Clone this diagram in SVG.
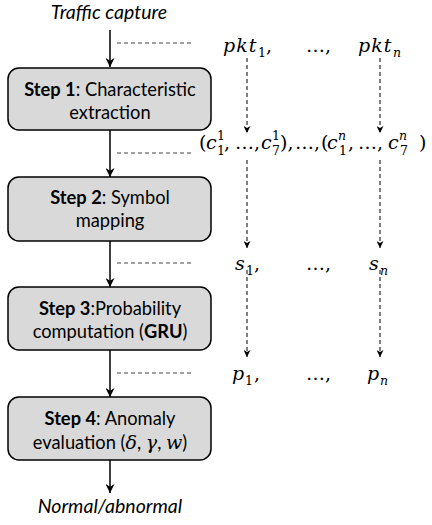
<svg xmlns="http://www.w3.org/2000/svg" width="432" height="525" viewBox="0 0 432 525">
<defs>
<marker id="ah" viewBox="0 0 10 10" refX="10" refY="5" markerWidth="9" markerHeight="9" markerUnits="userSpaceOnUse" orient="auto">
<path d="M0,0 L10,5 L0,10 L3,5 Z" fill="#000"/>
</marker>
<marker id="ahs" viewBox="0 0 10 10" refX="10" refY="5" markerWidth="7" markerHeight="7" markerUnits="userSpaceOnUse" orient="auto">
<path d="M0,0 L10,5 L0,10 L3,5 Z" fill="#000"/>
</marker>
<style>
.box{fill:#d9d9d9;stroke:#000;stroke-width:1.5}
.lbl{font-family:Lato,"Liberation Sans",sans-serif;font-size:18.3px;fill:#000;text-anchor:middle}
.it{font-family:Lato,"Liberation Sans",sans-serif;font-size:19.5px;font-style:italic;fill:#000;text-anchor:middle}
.m{font-family:"DejaVu Serif",serif;font-size:19px;font-style:italic;fill:#000}
.mu{font-family:"DejaVu Serif",serif;font-size:19px;fill:#000}
.s{font-family:"DejaVu Serif",serif;font-size:12.5px;fill:#000}
.si{font-family:"DejaVu Serif",serif;font-size:12.5px;font-style:italic;fill:#000}
.main{stroke:#000;stroke-width:1.5;fill:none;marker-end:url(#ah)}
.hd{stroke:#444;stroke-width:1;stroke-dasharray:4 3;fill:none}
.vd{stroke:#000;stroke-width:1;stroke-dasharray:4 3;fill:none;marker-end:url(#ahs)}
</style>
</defs>

<g id="connectors">
<line class="main" x1="110" y1="30" x2="110" y2="67"/>
<line class="main" x1="110" y1="130" x2="110" y2="177"/>
<line class="main" x1="110" y1="241" x2="110" y2="287"/>
<line class="main" x1="110" y1="350" x2="110" y2="397"/>
<line class="main" x1="110" y1="460" x2="110" y2="493"/>
<line class="hd" x1="117" y1="43" x2="194" y2="43"/>
<line class="hd" x1="117" y1="153" x2="194" y2="153"/>
<line class="hd" x1="117" y1="263" x2="194" y2="263"/>
<line class="hd" x1="117" y1="373" x2="194" y2="373"/>
<line class="vd" x1="247" y1="58" x2="247" y2="133"/>
<line class="vd" x1="380" y1="58" x2="380" y2="133"/>
<line class="vd" x1="247" y1="160" x2="247" y2="248"/>
<line class="vd" x1="380" y1="160" x2="380" y2="248"/>
<line class="vd" x1="247" y1="270" x2="247" y2="357"/>
<line class="vd" x1="380" y1="270" x2="380" y2="357"/>
</g>

<g id="input">
<text class="it" x="109" y="19">Traffic capture</text>
</g>

<g id="step1">
<rect class="box" x="8" y="68" width="203" height="62" rx="11"/>
<text class="lbl" x="110" y="96"><tspan font-weight="bold">Step 1</tspan>: Characteristic</text>
<text class="lbl" x="110" y="119">extraction</text>
</g>

<g id="step2">
<rect class="box" x="8" y="177" width="203" height="64" rx="11"/>
<text class="lbl" x="110" y="204"><tspan font-weight="bold">Step 2</tspan>: Symbol</text>
<text class="lbl" x="110" y="227">mapping</text>
</g>

<g id="step3">
<rect class="box" x="8" y="287" width="203" height="63" rx="11"/>
<text class="lbl" x="110" y="315"><tspan font-weight="bold">Step 3</tspan>:Probability</text>
<text class="lbl" x="110" y="338">computation (<tspan font-weight="bold">GRU</tspan>)</text>
</g>

<g id="step4">
<rect class="box" x="8" y="397" width="203" height="63" rx="11"/>
<text class="lbl" x="110" y="425"><tspan font-weight="bold">Step 4</tspan>: Anomaly</text>
<text class="lbl" x="110" y="449">evaluation (<tspan class="m" font-size="17px">δ</tspan>, <tspan class="m" font-size="17px">γ</tspan>, <tspan class="m" font-size="17px">w</tspan>)</text>
</g>

<g id="output">
<text class="it" x="110" y="513">Normal/abnormal</text>
</g>

<g id="row-pkt">
<text class="m" x="223" y="52" font-size="21px" letter-spacing="1">pkt</text><text class="s" x="258" y="57">1</text><text class="mu" x="266" y="52">,</text>
<text class="mu" x="306" y="52">…,</text>
<text class="m" x="358" y="52" font-size="21px" letter-spacing="1">pkt</text><text class="si" x="393" y="57">n</text>
</g>

<g id="row-c">
<text class="mu" x="199" y="149">(</text>
<text class="m" x="206" y="149">c</text><text class="s" x="217" y="140">1</text><text class="s" x="217" y="155">1</text>
<text class="mu" x="224" y="149">,</text>
<text class="mu" x="235" y="149">…</text>
<text class="mu" x="254" y="149">,</text>
<text class="m" x="261" y="149">c</text><text class="s" x="272" y="140">1</text><text class="s" x="272" y="155">7</text>
<text class="mu" x="280" y="149">),</text>
<text class="mu" x="295" y="149">…,</text>
<text class="mu" x="321" y="149">(</text>
<text class="m" x="327" y="149">c</text><text class="si" x="338" y="140">n</text><text class="s" x="339" y="155">1</text>
<text class="mu" x="348" y="149">,</text>
<text class="mu" x="358" y="149">…</text>
<text class="mu" x="377" y="149">,</text>
<text class="m" x="388" y="149">c</text><text class="si" x="399" y="140">n</text><text class="s" x="400" y="155">7</text>
<text class="mu" x="419" y="149">)</text>
</g>

<g id="row-s">
<text class="m" x="235" y="270">s</text><text class="s" x="246" y="275">1</text><text class="mu" x="254" y="270">,</text>
<text class="mu" x="306" y="270">…,</text>
<text class="m" x="369" y="270">s</text><text class="si" x="380" y="275">n</text>
</g>

<g id="row-p">
<text class="m" x="232" y="380">p</text><text class="s" x="245" y="385">1</text><text class="mu" x="254" y="380">,</text>
<text class="mu" x="306" y="380">…,</text>
<text class="m" x="367" y="380">p</text><text class="si" x="380" y="385">n</text>
</g>
</svg>
